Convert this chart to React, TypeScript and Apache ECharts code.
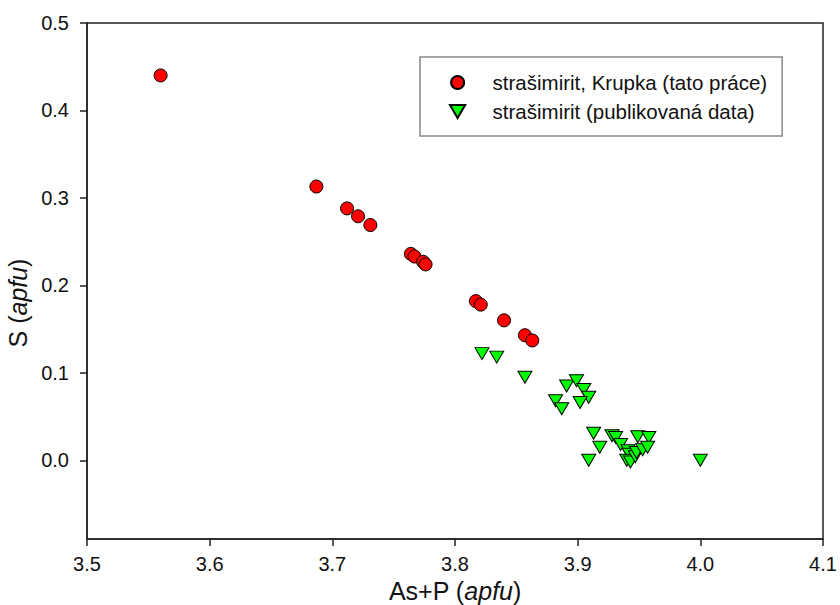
import React, { useEffect, useRef } from "react";
import * as echarts from "echarts";

const seriesNames = ["strašimirit, Krupka (tato práce)", "strašimirit (publikovaná data)"];

const krupkaAsP = [3.560, 3.687, 3.712, 3.721, 3.731, 3.764, 3.767, 3.774, 3.776, 3.817, 3.821, 3.840, 3.857, 3.863];
const krupkaS = [0.440, 0.313, 0.288, 0.279, 0.269, 0.236, 0.233, 0.227, 0.224, 0.182, 0.178, 0.160, 0.143, 0.137];

const publishedAsP = [3.822, 3.834, 3.857, 3.891, 3.899, 3.905, 3.909, 3.902, 3.882, 3.887, 3.913, 3.918, 3.909, 3.928, 3.931, 3.935, 3.941, 3.942, 3.940, 3.943, 3.947, 3.948, 3.949, 3.958, 3.953, 3.957, 4.000];
const publishedS = [0.122, 0.118, 0.095, 0.085, 0.091, 0.081, 0.072, 0.066, 0.068, 0.059, 0.031, 0.015, 0.000, 0.028, 0.026, 0.018, 0.011, 0.007, 0.000, -0.002, 0.004, 0.009, 0.027, 0.026, 0.012, 0.015, 0.000];

const yTickValues = [0.0, 0.1, 0.2, 0.3, 0.4, 0.5];

const FONT = '"Liberation Sans", Arial, sans-serif';

export default function App() {
  const ref = useRef<HTMLDivElement>(null);
  useEffect(() => {
    if (!ref.current) return;
    const chart = echarts.init(ref.current, null, { renderer: "svg" });
    const axisColor = "#222";
    const nameRich = {
      n: { fontSize: 25, fontFamily: FONT, color: "#111" },
      i: { fontSize: 25, fontFamily: FONT, fontStyle: "italic", color: "#111" },
    };
    chart.setOption({
      animation: false,
      backgroundColor: "#fff",
      textStyle: { fontFamily: FONT },
      grid: {
        left: 87,
        right: 17,
        top: 23,
        bottom: 66,
        containLabel: false,
        outerBoundsMode: "none",
        show: true,
        borderColor: axisColor,
        borderWidth: 1.5,
        backgroundColor: "transparent",
      },
      legend: {
        orient: "vertical",
        left: 420,
        top: 57,
        padding: [15, 15, 14, 29],
        itemWidth: 60,
        itemHeight: 13,
        itemGap: 8,
        borderColor: "#888",
        borderWidth: 1.5,
        backgroundColor: "#fff",
        textStyle: { fontFamily: FONT, fontSize: 20.5, color: "#111" },
        data: seriesNames,
      },
      xAxis: {
        type: "value",
        min: 3.5,
        max: 4.1,
        interval: 0.1,
        name: "{n|As+P (}{i|apfu}{n|)}",
        nameLocation: "middle",
        nameGap: 38,
        nameTextStyle: { fontSize: 25, fontFamily: FONT, rich: nameRich },
        axisLine: { onZero: false, lineStyle: { color: axisColor, width: 1.5 } },
        axisTick: { show: true, inside: false, length: 7, lineStyle: { color: axisColor, width: 1.5 } },
        axisLabel: {
          margin: 15,
          fontSize: 20,
          color: "#111",
          fontFamily: FONT,
          formatter: (v: number) => v.toFixed(1),
        },
        splitLine: { show: false },
      },
      yAxis: {
        type: "value",
        min: -0.09,
        max: 0.5,
        name: "{n|S (}{i|apfu}{n|)}",
        nameLocation: "middle",
        nameRotate: 90,
        nameGap: 50,
        nameTextStyle: { fontSize: 25, fontFamily: FONT, rich: nameRich, padding: [0, 44, 0, 0] },
        axisLine: { onZero: false, lineStyle: { color: axisColor, width: 1.5 } },
        axisTick: {
          show: true,
          inside: false,
          length: 7,
          customValues: yTickValues,
          lineStyle: { color: axisColor, width: 1.5 },
        },
        axisLabel: {
          margin: 18,
          fontSize: 20,
          color: "#111",
          fontFamily: FONT,
          customValues: yTickValues,
          formatter: (v: number) => v.toFixed(1),
        },
        splitLine: { show: false },
      },
      series: [
        {
          name: seriesNames[0],
          type: "scatter",
          symbol: "circle",
          symbolSize: 13,
          itemStyle: { color: "#ff0000", borderColor: "#000", borderWidth: 1, opacity: 1 },
          data: krupkaAsP.map((x, i) => [x, krupkaS[i]]),
          z: 2,
        },
        {
          name: seriesNames[1],
          type: "scatter",
          symbol: "path://M0,0L14,0L7,12Z",
          symbolSize: [14, 12],
          itemStyle: { color: "#00ff00", borderColor: "#000", borderWidth: 1, opacity: 1 },
          data: publishedAsP.map((x, i) => [x, publishedS[i]]),
          z: 3,
        },
      ],
    });
    return () => chart.dispose();
  }, []);
  return (
    <div
      ref={ref}
      style={{ position: "fixed", left: 0, top: 0, width: 840, height: 605, background: "#fff" }}
    />
  );
}
